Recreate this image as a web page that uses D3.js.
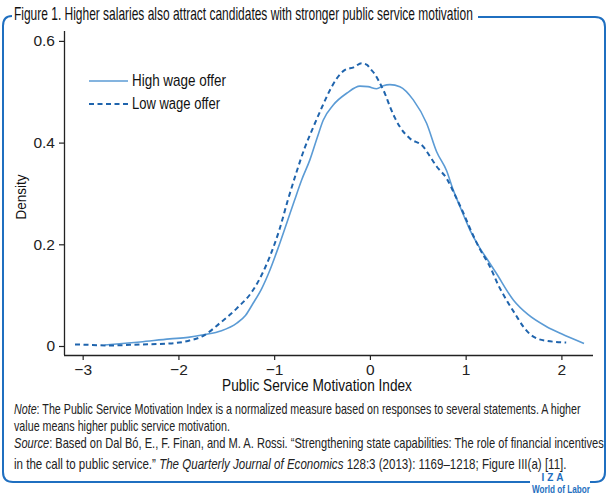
<!DOCTYPE html>
<html><head><meta charset="utf-8">
<script src="https://cdn.jsdelivr.net/npm/d3@7"></script>
<style>body{margin:0;background:#fff}svg{display:block}</style>
</head><body>
<svg id="c" width="608" height="496"></svg>
<script>
const seriesNames = ["High wage offer", "Low wage offer"];
const highX = [-2.77,-2.4,-2.09,-1.9,-1.74,-1.55,-1.39,-1.3,-1.22,-1.13,-1.045,-0.96,-0.87,-0.79,-0.714,-0.627,-0.55,-0.488,-0.383,-0.243,-0.104,-0.02,0.07,0.14,0.209,0.313,0.453,0.592,0.697,0.80,0.87,0.95,1.045,1.15,1.22,1.32,1.5,1.65,1.846,2.0,2.236];
const highY = [0.002,0.008,0.014,0.017,0.022,0.030,0.045,0.060,0.084,0.113,0.149,0.192,0.241,0.285,0.326,0.366,0.410,0.444,0.474,0.497,0.511,0.510,0.506,0.512,0.514,0.510,0.484,0.438,0.382,0.345,0.307,0.27,0.228,0.192,0.172,0.143,0.090,0.062,0.038,0.024,0.005];
const lowX = [-3.08,-2.9,-2.75,-2.4,-2.09,-1.9,-1.74,-1.567,-1.39,-1.22,-1.13,-1.045,-0.94,-0.86,-0.77,-0.68,-0.59,-0.5,-0.418,-0.35,-0.26,-0.17,-0.087,-0.03,0.0,0.05,0.104,0.16,0.209,0.26,0.313,0.418,0.557,0.62,0.697,0.8,0.888,0.975,1.06,1.15,1.219,1.254,1.34,1.428,1.52,1.602,1.68,1.742,1.85,2.05];
const lowY = [0.003,0.002,0.001,0.003,0.005,0.010,0.020,0.045,0.074,0.110,0.140,0.176,0.232,0.285,0.340,0.390,0.431,0.47,0.503,0.525,0.543,0.548,0.556,0.553,0.546,0.535,0.517,0.495,0.471,0.449,0.431,0.408,0.392,0.375,0.353,0.33,0.297,0.262,0.225,0.19,0.168,0.156,0.12,0.090,0.062,0.038,0.022,0.015,0.010,0.007];
const xTicks = [-3,-2,-1,0,1,2];
const yTicks = [0,0.2,0.4,0.6];
const yTickLabels = ["0","0.2","0.4","0.6"];
const xTickLabels = ["\u22123","\u22122","\u22121","0","1","2"];

const svg = d3.select("#c");
const blue = "#1f6fc0";
const axisCol = "#222";
const sf = "'Liberation Sans',Arial,sans-serif";

// condense text horizontally so its width matches the target width
function squeeze(t, px, py, target){
  const w = t.node().getComputedTextLength();
  const s = w > 0 ? Math.min(1, target / w) : 1;
  t.attr("x",0).attr("y",0).attr("transform",`translate(${px},${py}) scale(${s.toFixed(4)},1)`);
  return t;
}

const x = d3.scaleLinear().domain([-3.195, 2.33]).range([64, 593]);
const y = d3.scaleLinear().domain([0, 0.6]).range([346, 40.9]);

// frame
svg.append("path")
  .attr("d","M12,16 Q3,16 3,26 L3,472 Q3,482 13,482 L530,482 M590,482 L595,482 Q605,482 605,472 L605,27 Q605,17 595,17 L478,17")
  .attr("fill","none").attr("stroke",blue).attr("stroke-width",2);

squeeze(svg.append("text").attr("font-family",sf).attr("font-size",17.5).attr("fill","#111")
  .text("Figure 1. Higher salaries also attract candidates with stronger public service motivation"), 14, 20, 459);

// axes
const gx = svg.append("g").attr("transform","translate(0,355)")
  .call(d3.axisBottom(x).tickValues(xTicks).tickSize(5).tickPadding(4).tickFormat((d,i)=>xTickLabels[i]));
const gy = svg.append("g").attr("transform","translate(64,0)")
  .call(d3.axisLeft(y).tickValues(yTicks).tickSize(5).tickPadding(4).tickFormat((d,i)=>yTickLabels[i]));
[gx,gy].forEach(g=>{
  g.select(".domain").attr("stroke",axisCol).attr("stroke-width",1.3);
  g.selectAll(".tick line").attr("stroke",axisCol).attr("stroke-width",1.2);
  g.selectAll(".tick text").attr("font-family",sf).attr("font-size",15.5).attr("fill","#222");
});
gx.select(".domain").attr("d","M64,0.5H593");
gy.select(".domain").attr("d","M0.5,31V355");

svg.append("text").attr("transform","translate(26,197) rotate(-90) scale(0.9,1)").attr("text-anchor","middle")
  .attr("font-family",sf).attr("font-size",15).attr("fill","#111")
  .text("Density");
squeeze(svg.append("text").attr("text-anchor","middle")
  .attr("font-family",sf).attr("font-size",16).attr("fill","#111")
  .text("Public Service Motivation Index"), 317, 391, 190);

const line = d3.line().x(d=>x(d[0])).y(d=>y(d[1])).curve(d3.curveMonotoneX);
svg.append("path").datum(highX.map((v,i)=>[v,highY[i]]))
  .attr("d",line).attr("fill","none").attr("stroke","#5b9bd5").attr("stroke-width",1.6);
svg.append("path").datum(lowX.map((v,i)=>[v,lowY[i]]))
  .attr("d",line).attr("fill","none").attr("stroke","#1f64ad").attr("stroke-width",2).attr("stroke-dasharray","5,3.5");

// legend
const lg = svg.append("g");
lg.append("line").attr("x1",89).attr("x2",128).attr("y1",81).attr("y2",81).attr("stroke","#5b9bd5").attr("stroke-width",1.6);
lg.append("line").attr("x1",89).attr("x2",128).attr("y1",104).attr("y2",104).attr("stroke","#1f64ad").attr("stroke-width",2).attr("stroke-dasharray","5,3.5");
lg.selectAll("text.l").data(seriesNames).join("text").attr("class","l")
  .attr("font-family",sf).attr("font-size",16).attr("fill","#111")
  .text(d=>d)
  .each(function(d,i){ squeeze(d3.select(this), 132, 86+i*23, i===0?94:88); });

// notes
function rich(px, py, parts, len){
  const t = svg.append("text").attr("font-family",sf).attr("font-size",14).attr("fill","#222");
  parts.forEach(p=>t.append("tspan").attr("font-style",p[1]?"italic":"normal").text(p[0]));
  return squeeze(t, px, py, len);
}
const n1 = rich(14,414,[["Note",1],[": The Public Service Motivation Index is a normalized measure based on responses to several statements. A higher",0]],567);
const n2 = rich(14,431,[["value means higher public service motivation.",0]],197);
n2.attr("transform", n1.attr("transform").replace("414","431"));
rich(14,448,[["Source",1],[": Based on Dal Bó, E., F. Finan, and M. A. Rossi. “Strengthening state capabilities: The role of financial incentives",0]],590);
rich(14,469,[["in the call to public service.” ",0],["The Quarterly Journal of Economics",1],[" 128:3 (2013): 1169–1218; Figure III(a) [11].",0]],553);

// logo
svg.append("text").attr("x",554).attr("y",481).attr("text-anchor","middle")
  .attr("font-family",sf).attr("font-size",10).attr("font-weight","bold")
  .attr("fill",blue).attr("letter-spacing",3).text("IZA");
squeeze(svg.append("text").attr("text-anchor","middle")
  .attr("font-family",sf).attr("font-size",11).attr("font-weight","bold")
  .attr("fill",blue).text("World of Labor"), 561, 493, 58);
</script>
</body></html>
